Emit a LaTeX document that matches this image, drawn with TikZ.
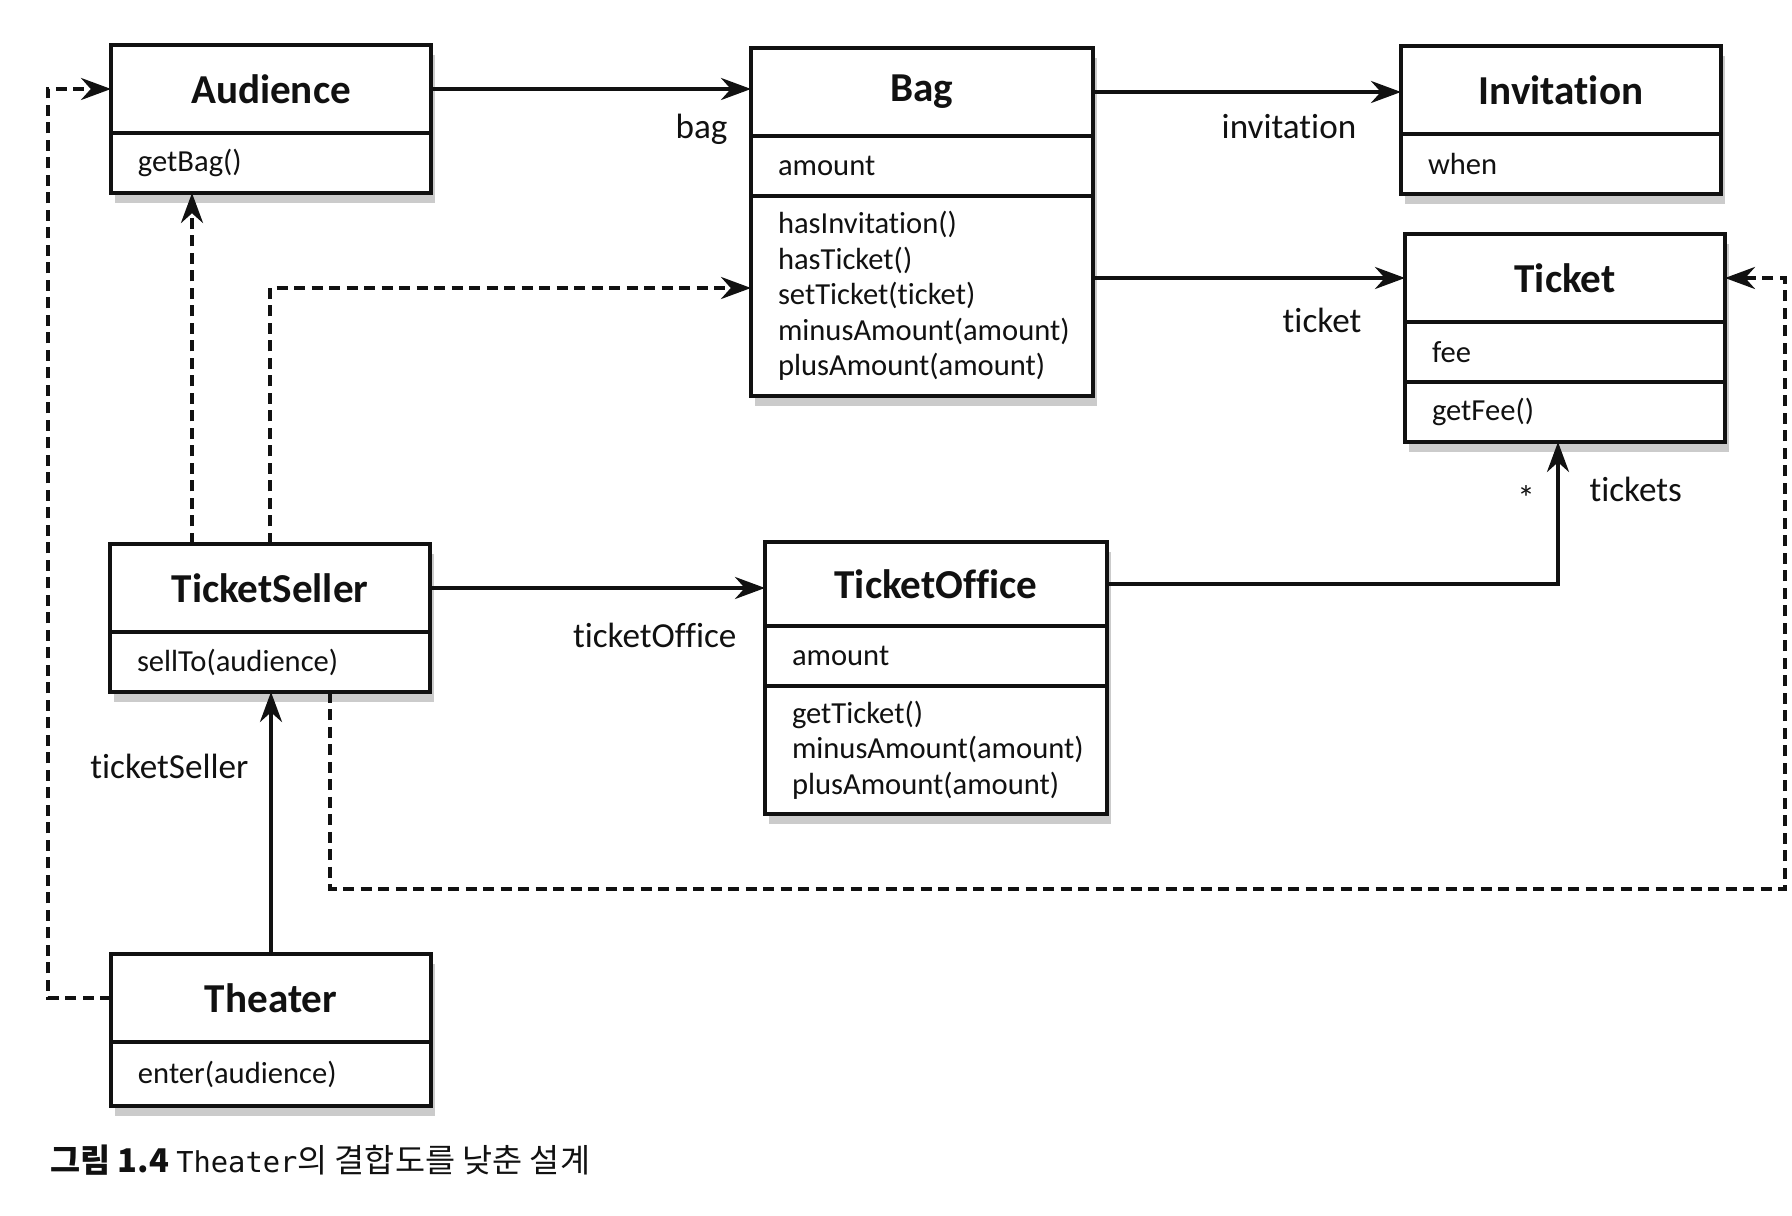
\documentclass[tikz,border=0pt]{standalone}
\usepackage{fontspec}
\setmainfont{Carlito}[Ligatures={NoCommon,NoContextual}]
\newfontfamily\krfont{Noto Sans CJK KR}
\newfontfamily\codefont[Scale=0.88]{DejaVu Sans Mono}
\usetikzlibrary{arrows.meta,positioning,shadows}
\definecolor{inkblack}{HTML}{111111}
\definecolor{shadowgray}{HTML}{8C8C8C}

\begin{document}
\begin{tikzpicture}[>={Stealth[length=3mm,width=2.2mm]}, line width=1.15pt, color=inkblack,
  cls/.style={draw, line width=1.35pt, fill=white, outer sep=0pt, inner sep=0pt,
    font=\fontsize{11.7}{13}\selectfont\bfseries, minimum width=3.2cm, minimum height=0.88cm,
    anchor=north west, drop shadow={shadow xshift=0.4mm, shadow yshift=-1mm, fill=shadowgray, opacity=0.45}},
  part/.style={draw, line width=1.35pt, fill=white, outer sep=0pt, inner xsep=0.27cm, inner ysep=0pt,
    font=\fontsize{8.7}{10.1}\selectfont, align=left, text width=2.66cm, minimum height=#1,
    drop shadow={shadow xshift=0.4mm, shadow yshift=-1mm, fill=shadowgray, opacity=0.45}},
  part/.default=0.6cm,
  lbl/.style={font=\fontsize{10}{12}\selectfont, inner sep=1pt},
  dep/.style={->, dash pattern=on 1.1mm off 0.65mm}]
\useasboundingbox (0,0) rectangle (17.92,-12.16);
\node[cls] (aud) at (1.11,-0.45) {Audience};
\node[part, below=0pt of aud] (aud-m) {getBag()};
\node[cls, minimum width=3.42cm] (bag) at (7.51,-0.48) {Bag};
\node[part, text width=2.88cm, below=0pt of bag] (bag-a) {amount};
\node[part=2cm, text width=2.88cm, below=0pt of bag-a] (bag-m) {hasInvitation()\\hasTicket()\\setTicket(ticket)\\minusAmount(amount)\\plusAmount(amount)};
\node[cls] (inv) at (14.01,-0.46) {Invitation};
\node[part, below=0pt of inv] (inv-a) {when};
\node[cls] (tkt) at (14.05,-2.34) {Ticket};
\node[part, below=0pt of tkt] (tkt-a) {fee};
\node[part, below=0pt of tkt-a] (tkt-m) {getFee()};
\node[cls] (sel) at (1.10,-5.44) {TicketSeller};
\node[part, below=0pt of sel] (sel-m) {sellTo(audience)};
\node[cls, minimum width=3.42cm, minimum height=0.84cm] (off) at (7.65,-5.42) {TicketOffice};
\node[part, text width=2.88cm, below=0pt of off] (off-a) {amount};
\node[part=1.28cm, text width=2.88cm, below=0pt of off-a] (off-m) {getTicket()\\minusAmount(amount)\\plusAmount(amount)};
\node[cls] (thr) at (1.11,-9.54) {Theater};
\node[part=0.64cm, below=0pt of thr] (thr-m) {enter(audience)};
\draw[->] (aud.east) -- (aud.east -| bag.west);
\draw[->] (bag.east) -- (bag.east -| inv.west);
\draw[->] (bag-m.east |- tkt.west) -- (tkt.west);
\draw[->] (sel.east) -- (sel.east -| off.west);
\draw[->] (off.east) -| ([xshift=-0.07cm]tkt-m.south);
\draw[->] (thr.north) -- (thr.north |- sel-m.south);
\draw[dep] ([xshift=-0.78cm]sel.north) -- ([xshift=-0.78cm]sel.north |- aud-m.south);
\draw[dep] (sel.north) |- ([yshift=0.08cm]bag-m.west);
\draw[dep] ([xshift=0.6cm]sel-m.south) -- ++(0,-1.97) -| ([xshift=0.6cm]tkt.east) -- (tkt.east);
\draw[dep] (thr.west) -- ++(-0.63,0) |- (aud.west);
\node[lbl, anchor=east] (l-bag) at (7.33,-1.29) {bag};
\node[lbl] (l-inv) at (12.89,-1.27) {invitation};
\node[lbl] (l-tkt) at (13.22,-3.20) {ticket};
\node[lbl, anchor=east] (l-off) at (7.42,-6.35) {ticketOffice};
\node[lbl] (l-star) at (15.26,-4.98) {*};
\node[lbl, anchor=west] (l-tkts) at (15.84,-4.89) {tickets};
\node[lbl, anchor=east] (l-sel) at (2.54,-7.66) {ticketSeller};
\node[anchor=west, inner sep=0pt] (cap) at (0.48,-11.60) {\krfont\fontsize{9.3}{11}\selectfont\textbf{그림 1.4} {\codefont Theater}의 결합도를 낮춘 설계};
\end{tikzpicture}
\end{document}
